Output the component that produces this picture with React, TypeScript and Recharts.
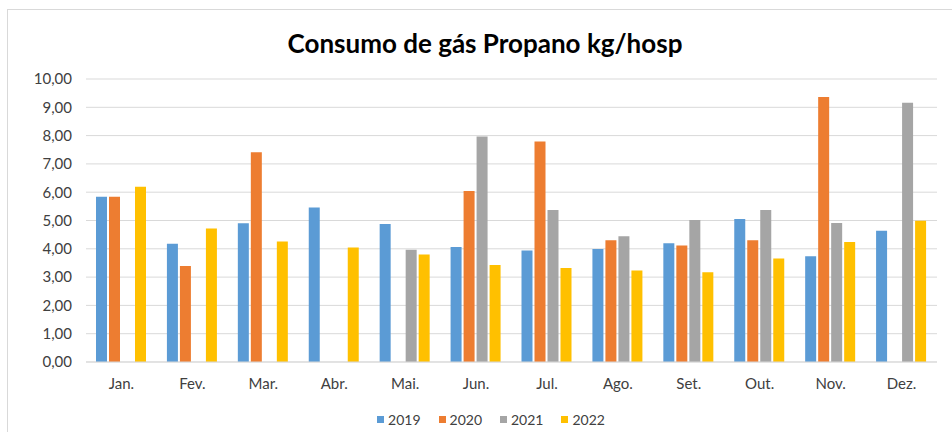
import React from 'react';
import { BarChart, Bar, XAxis, YAxis, CartesianGrid, Legend } from 'recharts';

// months and yearly consumption (kg/hosp)
const months = ['Jan.', 'Fev.', 'Mar.', 'Abr.', 'Mai.', 'Jun.', 'Jul.', 'Ago.', 'Set.', 'Out.', 'Nov.', 'Dez.'];
const v2019 = [5.84, 4.18, 4.9, 5.46, 4.88, 4.06, 3.94, 3.99, 4.2, 5.05, 3.74, 4.64];
const v2020 = [5.84, 3.39, 7.41, null, null, 6.04, 7.79, 4.3, 4.12, 4.3, 9.36, null];
const v2021 = [null, null, null, null, 3.97, 7.97, 5.37, 4.44, 5.02, 5.37, 4.91, 9.16];
const v2022 = [6.19, 4.72, 4.26, 4.05, 3.8, 3.43, 3.32, 3.23, 3.17, 3.66, 4.24, 4.99];
const yTicks = [0, 1, 2, 3, 4, 5, 6, 7, 8, 9, 10];

const series = [
  { key: 'y2019', name: '2019', color: '#5B9BD5' },
  { key: 'y2020', name: '2020', color: '#ED7D31' },
  { key: 'y2021', name: '2021', color: '#A5A5A5' },
  { key: 'y2022', name: '2022', color: '#FFC000' },
];

const data = months.map((m, i) => ({
  month: m,
  y2019: v2019[i],
  y2020: v2020[i],
  y2021: v2021[i],
  y2022: v2022[i],
}));

const font = 'Lato, "Open Sans", sans-serif';
const fmt = (v: number) => v.toFixed(2).replace('.', ',');

const LegendContent = () => (
  <div style={{ display: 'flex', justifyContent: 'center', gap: 18, fontFamily: font, fontSize: 14, color: '#404040', paddingLeft: 30 }}>
    {series.map(s => (
      <div key={s.key} style={{ display: 'flex', alignItems: 'center', gap: 4 }}>
        <span style={{ width: 7, height: 7, background: s.color, display: 'inline-block' }} />
        <span>{s.name}</span>
      </div>
    ))}
  </div>
);

export default function App() {
  return (
    <div style={{ position: 'fixed', left: 0, top: 0, width: 952, height: 432, overflow: 'hidden', background: '#fff' }}>
      {/* chart frame: only its left and top edges show in the picture */}
      <div style={{ position: 'absolute', left: 7, top: 9, width: 1000, height: 500, borderLeft: '1px solid #d9d9d9', borderTop: '1px solid #d9d9d9' }} />
      <div style={{ position: 'absolute', left: 0, top: 27, width: 970, textAlign: 'center', fontFamily: font, fontWeight: 700, fontSize: 26, color: '#000' }}>
        Consumo de gás Propano kg/hosp
      </div>
      <div style={{ position: 'absolute', left: 0, top: 0 }}>
        <BarChart
          width={952}
          height={432}
          data={data}
          margin={{ top: 79, right: 15, bottom: 14, left: 0 }}
          barSize={11}
          barGap={2}
          barCategoryGap={10}
        >
          <CartesianGrid vertical={false} stroke="#d9d9d9" />
          <XAxis
            dataKey="month"
            axisLine={{ stroke: '#d9d9d9' }}
            tickLine={false}
            tickMargin={10}
            tick={{ fill: '#404040', fontSize: 15, fontFamily: font }}
          />
          <YAxis
            width={86}
            domain={[0, 10]}
            ticks={yTicks}
            tickFormatter={fmt}
            axisLine={false}
            tickLine={false}
            tickMargin={8}
            tick={{ fill: '#404040', fontSize: 15, fontFamily: font }}
          />
          <Legend
            verticalAlign="bottom"
            height={26}
            wrapperStyle={{ top: 411, left: 0, width: 952 }}
            content={<LegendContent />}
          />
          {series.map(s => (
            <Bar key={s.key} dataKey={s.key} name={s.name} fill={s.color} isAnimationActive={false} />
          ))}
        </BarChart>
      </div>
    </div>
  );
}
